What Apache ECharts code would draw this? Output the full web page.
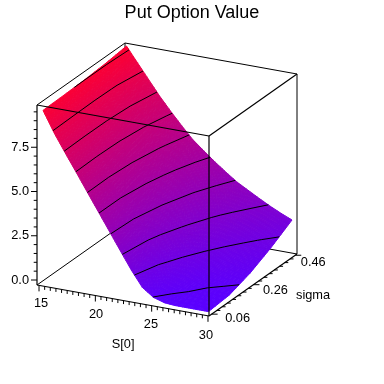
<!DOCTYPE html>
<html><head><meta charset="utf-8">
<style>html,body{margin:0;padding:0;background:#fff}#c{width:384px;height:384px}</style>
<script src="https://cdn.jsdelivr.net/npm/echarts@6/dist/echarts.min.js"></script>
</head><body><div id="c"></div>
<script>
const title = 'Put Option Value';
const spotPrices = [15,16,17,18,19,20,21,22,23,24,25,26,27,28,29,30];
const sigmas = [0.06,0.16,0.26,0.36,0.46];
const valuesSigma06 = [9.74,8.58,7.56,6.57,5.56,4.56,3.56,2.56,1.57,0.70,0.25,0.05,0,0,0,0];
const valuesSigma16 = [9.74,8.58,7.56,6.57,5.58,4.61,3.69,2.85,2.10,1.50,1.02,0.66,0.42,0.26,0.15,0.08];
const valuesSigma26 = [9.76,8.60,7.63,6.68,5.78,4.93,4.13,3.42,2.78,2.24,1.78,1.39,1.07,0.82,0.63,0.47];
const valuesSigma36 = [9.82,8.72,7.83,6.96,6.15,5.39,4.70,4.05,3.48,2.97,2.52,2.14,1.80,1.51,1.26,1.05];
const valuesSigma46 = [9.94,9.10,8.27,7.44,6.69,5.98,5.31,4.78,4.27,3.80,3.35,3.00,2.65,2.32,2.02,1.75];
const contourLevels = [0.26,1.32,2.37,3.42,4.48,5.53,6.59,7.64,8.69,9.75];
const valueTickLabels = [0,2.5,5,7.5];
const spotTickLabels = [15,20,25,30];
const sigmaTickLabels = [0.06,0.26,0.46];

const rows = [valuesSigma06,valuesSigma16,valuesSigma26,valuesSigma36,valuesSigma46];

// Oblique view of the surface
function view(S,sig,z){
  const a=(S-15)/15, b=(sig-0.06)/0.4;
  return [43+165.5*a+83.5*b, 281.8+29.8*a-60.8*b-17.6*z];
}
// Oblique view of the bounding box and its ticks
const boxS=[14.82,30.09], boxSig=[0.0474,0.4684], boxZ=[-0.282,9.887];
function frame(S,sig,z){
  const s=(S-boxS[0])/(boxS[1]-boxS[0]), t=(sig-boxSig[0])/(boxSig[1]-boxSig[0]);
  return [37+172*s+88*t, 285+31*s-62*t-17.7*(z-boxZ[0])];
}
function zColor(z){
  const f=Math.max(0,Math.min(1,z/10));
  const r=Math.round(90+(255-90)*f), g=0, bl=Math.round(255+(48-255)*f);
  return 'rgb('+r+','+g+','+bl+')';
}
function zAt(i,j,u,v){
  return rows[j][i]*(1-u)*(1-v)+rows[j][i+1]*u*(1-v)+rows[j+1][i]*(1-u)*v+rows[j+1][i+1]*u*v;
}

// surface cells, painted back to front
const cells=[];
for(let j=sigmas.length-2;j>=0;j--) for(let i=0;i<spotPrices.length-1;i++) cells.push([i,j]);

// contour segments from the value grid
const contourSegs=[];
contourLevels.forEach(L=>{
  for(let j=0;j<sigmas.length-1;j++) for(let i=0;i<spotPrices.length-1;i++){
    const c=[[i,j],[i+1,j],[i+1,j+1],[i,j+1]];
    const pts=[];
    for(let k=0;k<4;k++){
      const p=c[k],q=c[(k+1)%4];
      const zp=rows[p[1]][p[0]], zq=rows[q[1]][q[0]];
      if((zp<L)!==(zq<L)){
        const f=(L-zp)/(zq-zp);
        pts.push([spotPrices[p[0]]+f*(spotPrices[q[0]]-spotPrices[p[0]]),
                  sigmas[p[1]]+f*(sigmas[q[1]]-sigmas[p[1]])]);
      }
    }
    for(let k=0;k+1<pts.length;k+=2){
      const P=view(pts[k][0],pts[k][1],L), Q=view(pts[k+1][0],pts[k+1][1],L);
      contourSegs.push([P[0],P[1],Q[0],Q[1]]);
    }
  }
});

// box edges
const [S0,S1]=boxS,[G0,G1]=boxSig,[Z0,Z1]=boxZ;
const edge=(a,b)=>{const p=frame(...a),q=frame(...b);return [p[0],p[1],q[0],q[1]];};
const backEdges=[
  edge([S0,G0,Z0],[S0,G1,Z0]),edge([S0,G1,Z0],[S1,G1,Z0]),edge([S0,G1,Z0],[S0,G1,Z1]),
  edge([S0,G1,Z1],[S1,G1,Z1]),edge([S0,G1,Z1],[S0,G0,Z1]),edge([S1,G1,Z1],[S1,G1,Z0])
];
const frontEdges=[
  edge([S0,G0,Z1],[S1,G0,Z1]),edge([S1,G0,Z1],[S1,G1,Z1]),edge([S1,G0,Z1],[S1,G0,Z0]),
  edge([S0,G0,Z0],[S0,G0,Z1]),edge([S0,G0,Z0],[S1,G0,Z0]),edge([S1,G0,Z0],[S1,G1,Z0])
];
// ticks
const tickSegs=[];
for(let k=0;k<=19;k++){
  const z=k*0.5, p=frame(S0,G0,z), major=k%5===0;
  tickSegs.push([p[0]-(major?6:3.3),p[1],p[0],p[1]]);
}
for(let k=0;k<=30;k++){
  const S=15+k*0.5, p=frame(S,G0,Z0), major=k%10===0;
  tickSegs.push([p[0],p[1],p[0],p[1]+(major?6:3.5)]);
}
for(let k=0;k<=16;k++){
  const sg=0.06+k*0.025, p=frame(S1,sg,Z0), major=k%8===0;
  tickSegs.push([p[0],p[1],p[0]+(major?6:3.5),p[1]]);
}

// labels
const labels=[];
const FONT='12.8px "Liberation Sans"';
valueTickLabels.forEach(z=>{const p=frame(S0,G0,z);labels.push({x:p[0]-8,y:p[1],t:z.toFixed(1),al:'right'});});
spotTickLabels.forEach(S=>{const p=frame(S,G0,Z0);const k=S-15;labels.push({x:p[0]+2-k*0.27,y:p[1]+18+k*0.13,t:String(S),al:'center'});});
sigmaTickLabels.forEach(g=>{const p=frame(S1,g,Z0);const k=(g-0.06)/0.4;labels.push({x:p[0]+26-k*8,y:p[1]+4+k*3.5,t:g.toFixed(2),al:'center'});});
labels.push({x:frame(22.2,G0,Z0)[0]+3,y:frame(22.2,G0,Z0)[1]+44,t:'S[0]',al:'center'});
labels.push({x:frame(S1,0.33,Z0)[0]+45,y:frame(S1,0.33,Z0)[1]+21,t:'sigma',al:'center'});

function lineSeries(data,width,z){
  return {type:'custom',coordinateSystem:'cartesian2d',data:data,z:z,silent:true,animation:false,clip:false,
    encode:{x:[0,2],y:[1,3]},
    renderItem:(p,api)=>{
      const a=api.coord([api.value(0),api.value(1)]),b=api.coord([api.value(2),api.value(3)]);
      return {type:'line',shape:{x1:a[0],y1:a[1],x2:b[0],y2:b[1]},style:{stroke:'#000',lineWidth:width,fill:null}};
    }};
}
const N=6;
const surfaceSeries={type:'custom',coordinateSystem:'cartesian2d',data:cells,z:3,silent:true,animation:false,clip:false,
  encode:{x:0,y:1},
  renderItem:(p,api)=>{
    const i=api.value(0),j=api.value(1),children=[];
    const dS=spotPrices[i+1]-spotPrices[i], dG=sigmas[j+1]-sigmas[j];
    const pt=(u,v)=>{const q=view(spotPrices[i]+u*dS,sigmas[j]+v*dG,zAt(i,j,u,v));return api.coord(q);};
    for(let m=N-1;m>=0;m--) for(let n=0;n<N;n++){
      const u0=n/N,u1=(n+1)/N,v0=m/N,v1=(m+1)/N;
      const col=zColor(zAt(i,j,(u0+u1)/2,(v0+v1)/2));
      children.push({type:'polygon',shape:{points:[pt(u0,v0),pt(u1,v0),pt(u1,v1),pt(u0,v1)]},
        style:{fill:col,stroke:col,lineWidth:1}});
    }
    return {type:'group',children};
  }};
const labelSeries={type:'custom',coordinateSystem:'cartesian2d',data:labels.map((l,i)=>[l.x,l.y,i]),z:6,silent:true,animation:false,clip:false,
  encode:{x:0,y:1},
  renderItem:(p,api)=>{
    const c=api.coord([api.value(0),api.value(1)]),l=labels[api.value(2)];
    return {type:'text',x:c[0],y:c[1],style:{text:l.t,font:FONT,fill:'#000',align:l.al,verticalAlign:'middle'}};
  }};

const chart=echarts.init(document.getElementById('c'),null,{renderer:'canvas'});
chart.setOption({
  animation:false,backgroundColor:'#fff',
  title:{text:title,left:'center',top:-1,textStyle:{fontFamily:'Liberation Sans',fontSize:18,fontWeight:'normal',color:'#000'}},
  grid:{left:0,right:0,top:0,bottom:0},
  xAxis:{type:'value',min:0,max:384,show:false},
  yAxis:{type:'value',min:0,max:384,inverse:true,show:false},
  series:[lineSeries(backEdges,1,2),surfaceSeries,lineSeries(contourSegs,1,4),lineSeries(frontEdges,1.2,5),lineSeries(tickSegs,1,5),labelSeries]
});
</script></body></html>
